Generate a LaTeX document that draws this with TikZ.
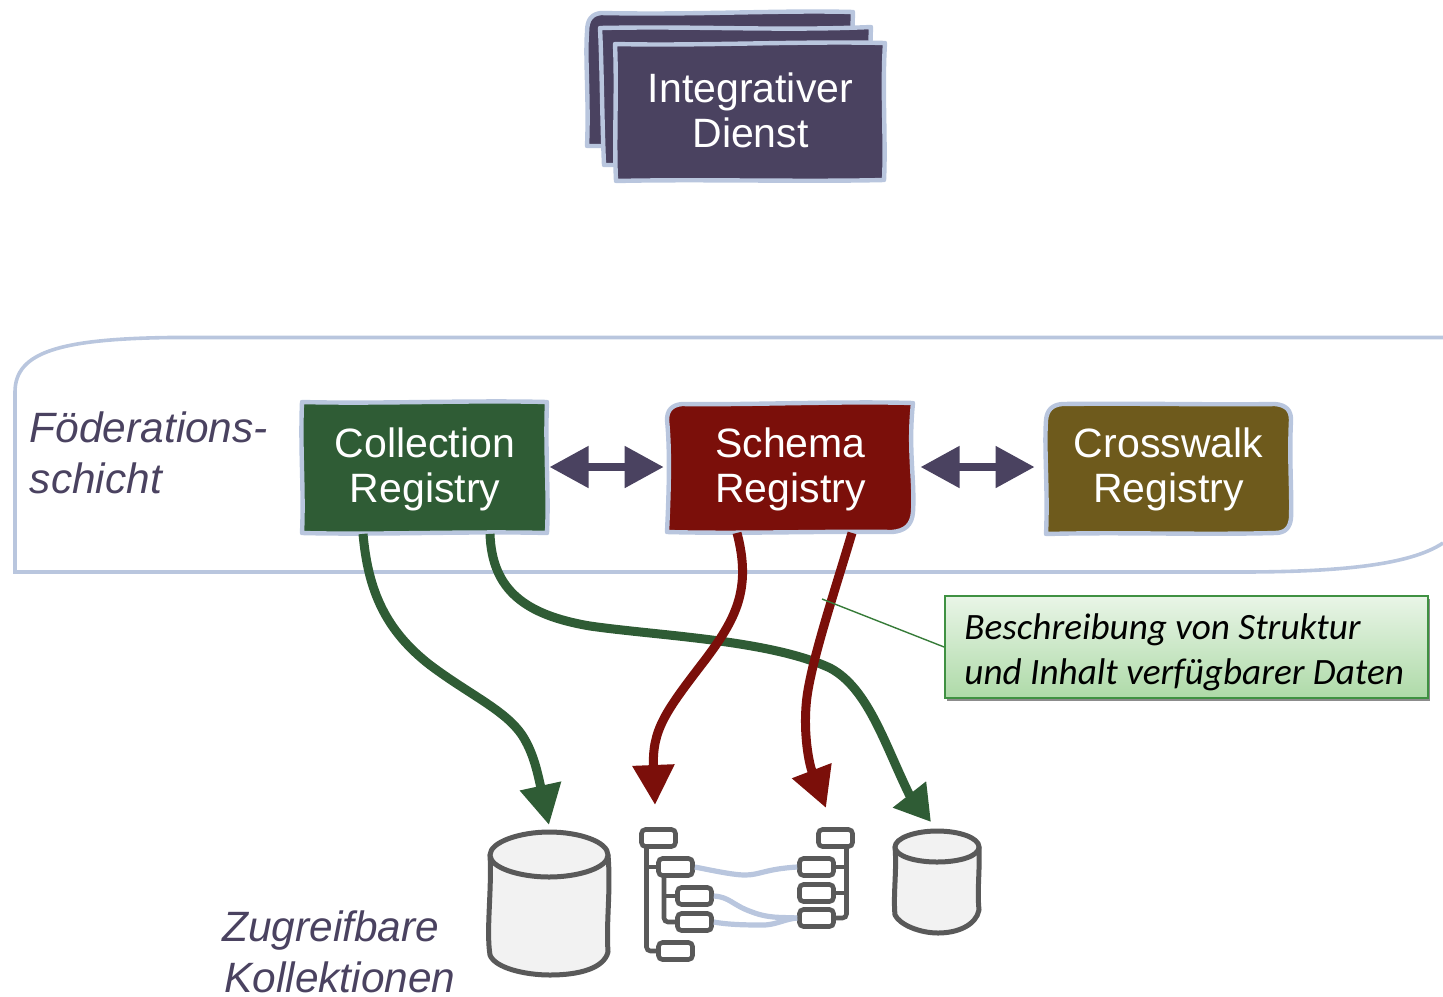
\documentclass[tikz,border=0pt]{standalone}
\usepackage{fontspec}
\setmainfont{Liberation Sans}
\newfontfamily\calibrilike{Carlito}
\usetikzlibrary{arrows.meta,shadows,calc}
\definecolor{edgeblue}{HTML}{B9C6DE}
\definecolor{duskviolet}{HTML}{4A4260}
\definecolor{fedgreen}{HTML}{2F5C35}
\definecolor{fedred}{HTML}{7B0F0A}
\definecolor{fedbrown}{HTML}{6E5A1C}
\definecolor{toolgrey}{HTML}{595959}
\definecolor{barrelfill}{HTML}{F2F2F2}
\definecolor{calloutedge}{HTML}{3F9142}
\tikzset{
  x=0.5pt,y=-0.5pt,
  sketchbox/.style={draw=edgeblue,line width=2.2pt,line join=round},
  boxlabel/.style={text=white,align=center,inner sep=0pt,font=\fontsize{20.5}{22.5}\selectfont},
  sidelabel/.style={text=duskviolet,align=left,anchor=north west,inner sep=0pt,font=\fontsize{21.2}{25.5}\selectfont\itshape},
  bothways/.style={draw=duskviolet,line width=4pt,{Triangle[length=19.5pt,width=20pt]}-{Triangle[length=19.5pt,width=20pt]}},
  flowgreen/.style={draw=fedgreen,line width=4.5pt,-{Triangle[length=20pt,width=20pt]}},
  flowgreenshort/.style={draw=fedgreen,line width=4.5pt,-{Triangle[length=17.5pt,width=20pt]}},
  flowred/.style={draw=fedred,line width=4.5pt,-{Triangle[length=20pt,width=20pt]}},
  treebox/.style={draw=toolgrey,line width=2.3pt,rounded corners=2pt,fill=white,minimum width=17pt,minimum height=8.5pt,inner sep=0pt},
  treeline/.style={draw=toolgrey,line width=2.3pt,rounded corners=2pt},
  maplink/.style={draw=edgeblue,line width=2.6pt},
  barrel/.style={draw=toolgrey,fill=barrelfill,line width=2.5pt,line join=round},
  calloutbox/.style={draw=calloutedge,line width=0.9pt,top color=calloutTop,bottom color=calloutBottom,
    minimum width=241.5pt,minimum height=51pt,inner sep=0pt,
    drop shadow={shadow xshift=0.8pt,shadow yshift=-1.4pt,opacity=0.45,fill=black}},
  calloutlabel/.style={align=left,text=black,inner sep=0pt,font=\calibrilike\fontsize{18.6}{22.5}\selectfont\itshape},
}
\definecolor{calloutTop}{HTML}{E9F5E7}
\definecolor{calloutBottom}{HTML}{AEDAA8}
\begin{document}
\begin{tikzpicture}
\useasboundingbox (0,0) rectangle (1443,996);

% Federation layer
\draw[draw=edgeblue,line width=1.8pt]
  (1443,337.5) -- (170,337.5) .. controls (60,339) and (15,352) .. (15,392)
  -- (15,572) -- (1240,572) .. controls (1340,572) and (1410,565) .. (1443,543);

% Integrative service stack
\path[sketchbox,fill=duskviolet] (601,13) .. controls (700,15) and (780,10) .. (853,12)
  .. controls (851,60) and (855,100) .. (853,146) -- (587,146)
  .. controls (589,100) and (585,60) .. (587,32) .. controls (587,19) and (592,14) .. (601,13) -- cycle;
\path[sketchbox,fill=duskviolet] (600,28) .. controls (700,26) and (780,31) .. (871,27)
  .. controls (869,70) and (872,120) .. (871,165) -- (604,165)
  .. controls (602,120) and (602,70) .. (600,28) -- cycle;
\path[sketchbox,fill=duskviolet] (615,44) .. controls (700,46) and (800,41) .. (885,43)
  .. controls (882,90) and (886,140) .. (884,180) .. controls (800,182) and (700,179) .. (616,181)
  .. controls (614,140) and (617,90) .. (615,44) -- cycle;
\node[boxlabel] (integrative) at (750.5,110) {Integrativer\\Dienst};

\coordinate (treeLeftIn) at (655,805);
\coordinate (treeRightIn) at (826,808);
\coordinate (barrelA) at (549,825);
\coordinate (barrelB) at (931,822);
\coordinate (barrelBneck) at (909,794);

% Registries
\path[sketchbox,fill=fedgreen] (302,402) .. controls (380,404) and (470,400) .. (547,402)
  .. controls (545,450) and (549,490) .. (547,533) .. controls (470,531) and (380,535) .. (302,533)
  .. controls (304,490) and (300,450) .. (302,402) -- cycle;
\path[sketchbox,fill=fedred] (682,404) .. controls (750,405) and (840,401) .. (913,403)
  .. controls (908,450) and (915,480) .. (913,512) .. controls (912,525) and (905,531) .. (892,532)
  .. controls (820,531) and (740,534) .. (667,532)
  .. controls (669,490) and (670,450) .. (667,420) .. controls (667,410) and (672,405) .. (682,404) -- cycle;
\path[sketchbox,fill=fedbrown] (1062,404) .. controls (1140,403) and (1210,405) .. (1275,404)
  .. controls (1286,405) and (1291,410) .. (1291,420) .. controls (1289,460) and (1292,490) .. (1291,518)
  .. controls (1290,528) and (1285,533) .. (1275,533) .. controls (1200,535) and (1120,532) .. (1046,534)
  .. controls (1048,490) and (1044,450) .. (1046,420) .. controls (1047,410) and (1052,405) .. (1062,404) -- cycle;
\node[boxlabel,minimum width=122.5pt,minimum height=65.5pt] (collection) at (425,469) {Collection\\Registry};
\node[boxlabel,minimum width=123pt,minimum height=64.5pt] (schema) at (790.5,469) {Schema\\Registry};
\node[boxlabel,minimum width=122.5pt,minimum height=65pt] (crosswalk) at (1168.5,469) {Crosswalk\\Registry};

\draw[bothways,shorten <=0.8pt,shorten >=1.7pt] ($(collection.east)+(0,-2)$) -- ($(schema.west)+(0,-2)$);
\draw[bothways,shorten <=3.3pt,shorten >=5.5pt] ($(schema.east)+(0,-2)$) -- ($(crosswalk.west)+(0,-2)$);

\node[sidelabel] (federation) at (29.5,411) {Föderations-\\schicht};
\node[sidelabel] (collections) at (222,910) {Zugreifbare\\\hspace*{1pt}Kollektionen};

% Trees
\node[treebox] (la) at (658.5,838) {};
\node[treebox] (lb) at (675.5,867) {};
\node[treebox] (lc) at (694.5,896) {};
\node[treebox] (ld) at (694.5,922) {};
\node[treebox] (le) at (675.5,951) {};
\node[treebox] (ra) at (835.5,838) {};
\node[treebox] (rb) at (816.5,867) {};
\node[treebox] (rc) at (816.5,893) {};
\node[treebox] (rd) at (816.5,918) {};

\coordinate (ltrunk) at (646.5,847);
\coordinate (lsub) at (664,876);
\coordinate (rtrunk) at (846.5,847);
\draw[treeline] (ltrunk) |- (le.west);
\draw[treeline] (ltrunk |- lb.west) -- (lb.west);
\draw[treeline] (lsub) |- (ld.west);
\draw[treeline] (lsub |- lc.west) -- (lc.west);
\draw[treeline] (rtrunk) |- (rd.east);
\draw[treeline] (rtrunk |- rb.east) -- (rb.east);
\draw[treeline] (rtrunk |- rc.east) -- (rc.east);

\draw[maplink] (lb.east) .. controls (720,872) and (735,875) .. (745,875) .. controls (760,875) and (765,869) .. (rb.west);
\draw[maplink] (lc.east) .. controls (730,897) and (732,905) .. (752,912) .. controls (770,919) and (785,917) .. (rd.west);
\draw[maplink] (ld.east) .. controls (730,925) and (750,925) .. (765,925) .. controls (778,924) and (785,919) .. (rd.west);

% Barrels
\path[barrel] (490,855) .. controls (492,890) and (486,930) .. (490,955) .. controls (495,968) and (525,975) .. (550,975)
  .. controls (580,975) and (604,968) .. (608,952) .. controls (606,920) and (611,890) .. (608,855) -- cycle;
\path[barrel] (490,855) .. controls (490,842) and (520,832) .. (549,832) .. controls (580,832) and (608,842) .. (608,855)
  .. controls (608,868) and (578,877) .. (549,877) .. controls (520,877) and (490,868) .. (490,855) -- cycle;
\path[barrel] (895,847) .. controls (897,870) and (893,895) .. (895,915) .. controls (900,925) and (920,933) .. (938,933)
  .. controls (958,933) and (976,925) .. (979,910) .. controls (977,890) and (980,870) .. (979,847) -- cycle;
\path[barrel] (895,847) .. controls (895,838) and (915,831) .. (937,831) .. controls (960,831) and (979,838) .. (979,847)
  .. controls (979,856) and (960,862) .. (937,862) .. controls (915,862) and (895,856) .. (895,847) -- cycle;

% Flows
\draw[flowgreen] ($(collection.south)+(-62,-1)$) .. controls (368,590) and (385,630) .. (430,665)
  .. controls (470,695) and (505,710) .. (522,735) .. controls (533,752) and (537,770) .. (barrelA);
\draw[flowgreenshort] ($(collection.south)+(65,-1)$) .. controls (492,590) and (525,615) .. (590,626)
  .. controls (660,636) and (770,640) .. (830,668) .. controls (868,688) and (885,745) .. (barrelBneck) -- (barrelB);
\draw[flowred] ($(schema.south)+(-53.5,-1)$) .. controls (752,590) and (735,620) .. (705,660)
  .. controls (665,712) and (652,730) .. (treeLeftIn);
\draw[flowred] ($(schema.south)+(61.5,-1)$) .. controls (835,590) and (815,650) .. (808,690)
  .. controls (802,725) and (808,761) .. (treeRightIn);

% Callout
\node[calloutbox] (note) at (1186.5,647) {};
\node[calloutlabel,anchor=west] (notetext) at (964,652.5) {Beschreibung von Struktur\\und Inhalt verfügbarer Daten};
\coordinate (noteTarget) at (822,599);
\draw[draw=calloutedge!85!black,line width=0.7pt] (note.west) -- (noteTarget);
\end{tikzpicture}
\end{document}
